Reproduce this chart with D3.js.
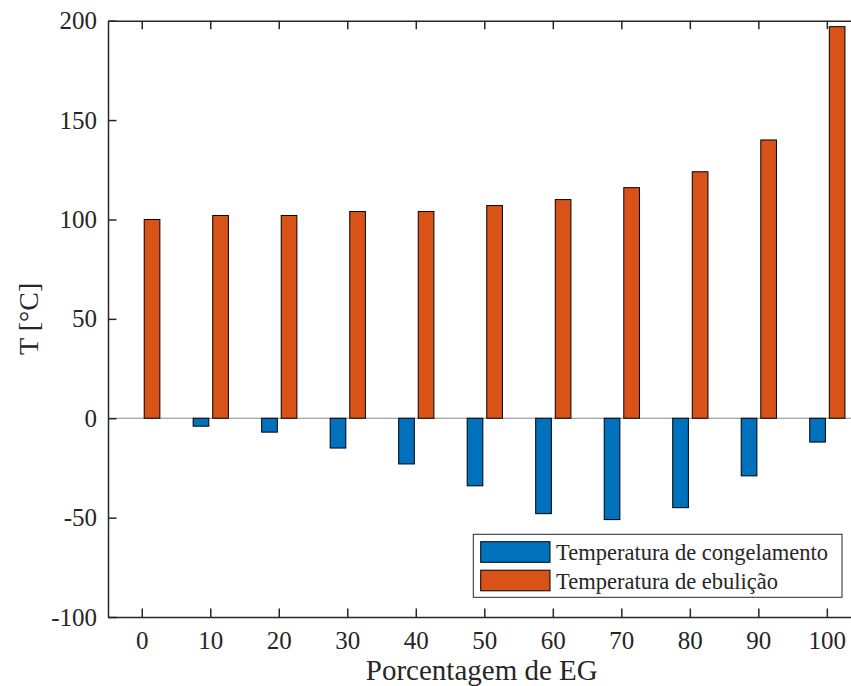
<!DOCTYPE html>
<html>
<head>
<meta charset="utf-8">
<script src="https://cdn.jsdelivr.net/npm/d3@7"></script>
<style>
  body { margin: 0; background: #fff; }
  svg { display: block; font-family: "Liberation Serif", "Times New Roman", serif; }
</style>
</head>
<body>
<svg></svg>
<script>
let categories = [0, 10, 20, 30, 40, 50, 60, 70, 80, 90, 100];
let congelamento = [0, -4, -7, -15, -23, -34, -48, -51, -45, -29, -12];
let ebulicao = [100, 102, 102, 104, 104, 107, 110, 116, 124, 140, 197];
let seriesNames = ['Temperatura de congelamento', 'Temperatura de ebulição'];
let seriesColors = ['#0072BD', '#D95319'];
let yTicks = [-100, -50, 0, 50, 100, 150, 200];

let width = 851;
let height = 686;
let plotLeft = 108;
let plotRight = 861.6;
let plotTop = 20.7;
let plotBottom = 617;
let ink = '#262626';
let serif = '"Liberation Serif", "Times New Roman", serif';

let svg = d3.select('svg').attr('width', width).attr('height', height);

let xScale = d3.scaleBand().domain(categories).range([plotLeft, plotRight]);
let groupW = xScale.bandwidth() * 0.5714;
let xSub = d3.scaleBand()
    .domain([0, 1])
    .range([-groupW / 2, groupW / 2])
    .paddingInner(0.2)
    .paddingOuter(0.1);
let yScale = d3.scaleLinear().domain([-100, 200]).range([plotBottom, plotTop]);

let rows = categories.map((c, i) => ({ cat: c, vals: [congelamento[i], ebulicao[i]] }));

// baseline at zero
svg.append('line')
    .attr('x1', plotLeft).attr('x2', plotRight)
    .attr('y1', yScale(0)).attr('y2', yScale(0))
    .attr('stroke', '#8a8a8a').attr('stroke-width', 1);

// bars
let groups = svg.selectAll('g.grp')
    .data(rows)
    .enter()
    .append('g')
    .attr('class', 'grp')
    .attr('transform', (d) => `translate(${xScale(d.cat) + xScale.bandwidth() / 2},0)`);

groups.selectAll('rect')
    .data((d) => d.vals.map((v, k) => ({ v: v, k: k })))
    .enter()
    .append('rect')
    .attr('x', (d) => xSub(d.k))
    .attr('width', xSub.bandwidth())
    .attr('y', (d) => yScale(Math.max(0, d.v)))
    .attr('height', (d) => Math.abs(yScale(d.v) - yScale(0)))
    .attr('fill', (d) => seriesColors[d.k])
    .attr('stroke', '#000')
    .attr('stroke-width', 1);

// axes
let tick = 8.5;
let xAxis = d3.axisBottom(xScale).tickSizeInner(-tick).tickSizeOuter(0).tickPadding(14);
let xTop = d3.axisTop(xScale).tickSizeInner(-tick).tickSizeOuter(0).tickFormat('');
let yAxis = d3.axisLeft(yScale)
    .tickValues(yTicks)
    .tickFormat((d) => String(d)) // plain hyphen like the original
    .tickSizeInner(-tick).tickSizeOuter(0).tickPadding(11);

let gx = svg.append('g').attr('transform', `translate(0,${plotBottom})`).call(xAxis);
let gt = svg.append('g').attr('transform', `translate(0,${plotTop})`).call(xTop);
let gy = svg.append('g').attr('transform', `translate(${plotLeft},0)`).call(yAxis);
let gr = svg.append('g').attr('transform', `translate(${plotRight},0)`)
    .call(d3.axisRight(yScale).tickValues(yTicks).tickSizeInner(-tick).tickSizeOuter(0).tickFormat(''));

[gx, gt, gy, gr].forEach((g) => {
    g.attr('font-family', serif);
    g.select('.domain').attr('stroke', ink).attr('stroke-width', 1.5);
    g.selectAll('.tick line').attr('stroke', ink).attr('stroke-width', 1.5);
    g.selectAll('.tick text')
        .attr('fill', ink)
        .style('font-family', serif)
        .style('font-size', '25px');
});
gx.selectAll('.tick text').attr('dy', '0.71em');

// axis labels
svg.append('text')
    .attr('x', (plotLeft + plotRight) / 2 - 3)
    .attr('y', 680)
    .attr('text-anchor', 'middle')
    .attr('fill', ink)
    .style('font-size', '29px')
    .text('Porcentagem de EG');

svg.append('text')
    .attr('transform', `translate(38,${(plotTop + plotBottom) / 2}) rotate(-90)`)
    .attr('text-anchor', 'middle')
    .attr('fill', ink)
    .style('font-size', '28px')
    .text('T [°C]');

// legend
let legend = svg.append('g');
legend.append('rect')
    .attr('x', 473.3).attr('y', 534.3)
    .attr('width', 368.7).attr('height', 63)
    .attr('fill', '#fff')
    .attr('stroke', ink).attr('stroke-width', 1);

seriesNames.forEach((name, i) => {
    let cy = 552 + i * 28.5;
    legend.append('rect')
        .attr('x', 480.7).attr('y', cy - 10.3)
        .attr('width', 69.3).attr('height', 20.6)
        .attr('fill', seriesColors[i])
        .attr('stroke', '#000').attr('stroke-width', 1);
    legend.append('text')
        .attr('x', 556).attr('y', cy + 8)
        .attr('fill', ink)
        .style('font-size', '22.5px')
        .text(name);
});
</script>
</body>
</html>
